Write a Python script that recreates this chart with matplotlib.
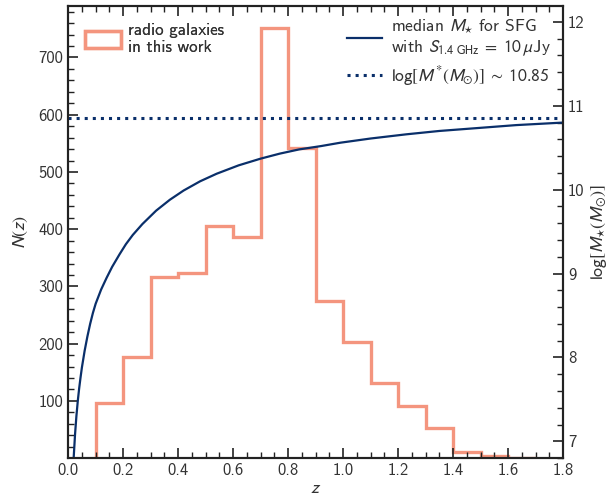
import numpy as np
import matplotlib
matplotlib.use("Agg")
import matplotlib.pyplot as plt
from matplotlib.patches import Patch
from matplotlib.lines import Line2D

plt.rcParams["font.family"] = ["cmss10", "DejaVu Sans"]
plt.rcParams["mathtext.fontset"] = "stixsans"
plt.rcParams["axes.unicode_minus"] = False
plt.rcParams["axes.formatter.use_mathtext"] = False

# Redshift histogram of the radio galaxy sample
bin_edges = [0.1, 0.2, 0.3, 0.4, 0.5, 0.6, 0.7, 0.8, 0.9, 1.0,
             1.1, 1.2, 1.3, 1.4, 1.5, 1.6, 1.7]
counts = [96, 176, 317, 324, 405, 386, 751, 541, 275, 202,
          132, 91, 53, 11, 4, 1]

# Median stellar mass of star-forming galaxies at the 10 uJy flux limit
z_curve = [0.019, 0.020, 0.025, 0.030, 0.035, 0.040, 0.045, 0.050, 0.060,
           0.070, 0.080, 0.090, 0.100, 0.120, 0.140, 0.160, 0.187, 0.210,
           0.235, 0.270, 0.320, 0.370, 0.420, 0.480, 0.540, 0.620, 0.700,
           0.770, 0.840, 0.920, 0.990, 1.100, 1.230, 1.350, 1.470, 1.630,
           1.800]
logm_curve = [6.74, 6.80, 7.08, 7.30, 7.48, 7.63, 7.76, 7.88, 8.08,
              8.25, 8.40, 8.53, 8.64, 8.81, 8.95, 9.08, 9.23, 9.35,
              9.46, 9.59, 9.75, 9.88, 9.99, 10.10, 10.19, 10.29, 10.37,
              10.43, 10.48, 10.52, 10.56, 10.61, 10.66, 10.70, 10.73, 10.77,
              10.80]

logm_star = 10.85

salmon = "#F4957E"
navy = "#0A2F6A"
text_col = "#333333"

fig, ax = plt.subplots(figsize=(6.14, 4.99), dpi=100)
fig.subplots_adjust(left=0.111, right=0.917, top=0.988, bottom=0.082)

ax.stairs(counts, bin_edges, color=salmon, linewidth=2.4, baseline=0)
ax.set_xlim(0, 1.8)
ax.set_ylim(0, 790)
ax.set_xticks(np.arange(0, 1.81, 0.2))
ax.set_xticks(np.arange(0, 1.81, 0.05), minor=True)
ax.set_yticks(np.arange(100, 701, 100))
ax.set_yticks(np.arange(20, 781, 20), minor=True)
ax.set_xticklabels([f"{v:.1f}" for v in np.arange(0, 1.81, 0.2)])
ax.set_xlabel("$z$", fontsize=13, color=text_col, labelpad=2)
ax.set_ylabel("$N(z)$", fontsize=13, color=text_col, labelpad=6)

ax2 = ax.twinx()
ax2.plot(z_curve, logm_curve, color=navy, linewidth=1.6,
         solid_capstyle="butt")
ax2.axhline(logm_star, color=navy, linewidth=2.2, linestyle=":")
ax2.set_ylim(6.8, 12.19)
ax2.set_yticks([7, 8, 9, 10, 11, 12])
ax2.set_yticks(np.arange(6.8, 12.2, 0.2), minor=True)
ax2.set_ylabel(r"$\log[M_{\star}(M_{\odot})]$", fontsize=13, color=text_col,
               labelpad=3)

for a in (ax, ax2):
    a.tick_params(which="both", direction="in", labelsize=12,
                  labelcolor=text_col, color="#222222")
    a.tick_params(which="major", length=7, width=1.2)
    a.tick_params(which="minor", length=4, width=1.0)
    for s in a.spines.values():
        s.set_linewidth(1.5)
        s.set_color("#222222")
ax.tick_params(which="both", top=True, right=False)
ax2.tick_params(which="both", left=False)

h1 = [Patch(facecolor="none", edgecolor=salmon, linewidth=2.4)]
leg1 = ax.legend(h1, ["radio galaxies\nin this work"], loc="upper left",
                 frameon=False, fontsize=12.2, handlelength=2.1,
                 handleheight=1.1, borderaxespad=0.6, handletextpad=0.45,
                 labelcolor=text_col)
ax.add_artist(leg1)

h2 = [Line2D([], [], color=navy, linewidth=1.6),
      Line2D([], [], color=navy, linewidth=2.2, linestyle=":")]
labels2 = ["median $M_{\\star}$ for SFG\n"
           "with $S_{1.4\\ \\mathrm{GHz}}\\;=\\;10\\,\\mu$Jy",
           "$\\log[M^{*}(M_{\\odot})] \\;\\sim\\; 10.85$"]
ax2.legend(h2, labels2, loc="upper right", frameon=False, fontsize=12.6,
           handlelength=2.0, borderaxespad=0.3, handletextpad=0.5,
           labelspacing=0.3, labelcolor=text_col)

fig.savefig("out.png", dpi=100)
